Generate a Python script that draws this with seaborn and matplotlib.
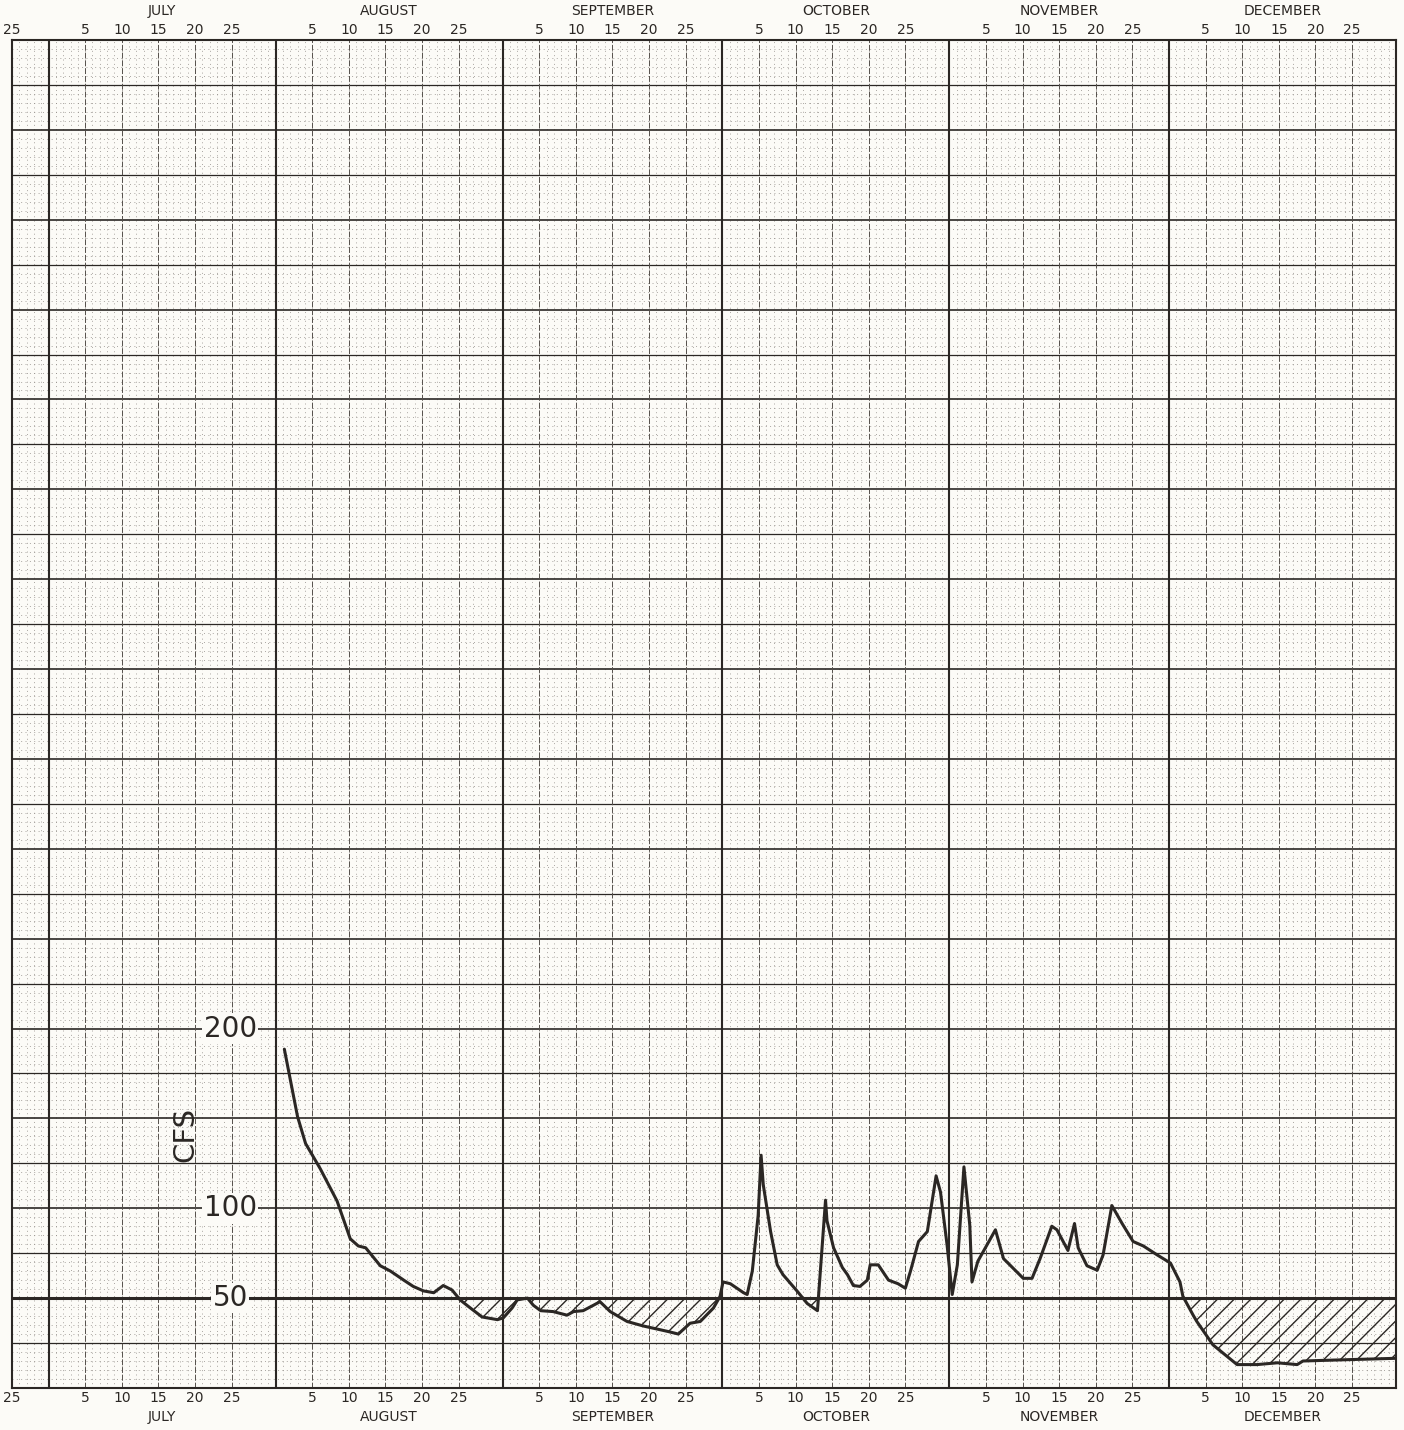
import numpy as np
import pandas as pd
import seaborn as sns
import matplotlib.pyplot as plt
from matplotlib.transforms import blended_transform_factory

# ---------------------------------------------
# Data read off the hydrograph
# day = days after the July 1 line, flow in cfs
# ---------------------------------------------
day = [32.2, 34.0, 35.1, 37.1, 39.4, 41.2, 42.3, 43.3, 45.3, 46.7,
       48.5, 49.8, 51.2, 52.6, 53.9, 55.1, 56.2, 57.6, 59.2, 61.3,
       62.1, 63.3, 64.0, 65.4, 66.2, 67.2, 68.9, 70.8, 71.7, 73.0,
       74.4, 75.3, 76.7, 79.0, 81.2, 84.5, 86.0, 87.6, 89.0, 90.8,
       91.7, 92.1, 93.1, 94.9, 95.4, 96.1, 96.9, 97.3, 97.6, 98.6,
       99.5, 100.3, 102.2, 103.6, 105.0, 106.1, 106.3, 107.2, 108.4, 109.1,
       109.9, 110.8, 111.8, 112.2, 113.3, 114.7, 116.0, 117.0, 117.7, 118.8,
       120.0, 121.2, 121.8, 122.7, 123.4, 124.1, 125.0, 125.8, 126.1, 126.9,
       129.3, 130.4, 133.1, 134.3, 135.4, 137.0, 137.7, 139.2, 140.1, 140.6,
       141.8, 143.2, 144.0, 145.2, 146.6, 148.1, 149.5, 151.4, 153.2, 154.5,
       154.9, 156.3, 156.8, 159.0, 162.3, 165.0, 167.8, 170.5, 171.3, 175.4,
       184.0]
flow = [188.5, 151, 136, 122, 104, 83, 79, 78, 68, 65,
        60, 56.5, 54, 53, 57, 54.5, 49, 44.5, 39.5, 38,
        39, 44.5, 49, 50, 46, 43, 42.5, 40.5, 42.5, 43,
        46, 48, 42.5, 37, 34.5, 31.5, 30, 36, 37, 44.5,
        51, 59, 58, 53, 52, 65, 96, 129.5, 113, 87,
        68.5, 63, 54, 47, 43, 104.5, 93, 78, 67, 63,
        57, 56.5, 60, 68.5, 68.5, 60, 58, 55.5, 65, 81.5,
        87, 118, 109, 79.5, 52, 68.5, 123, 90.5, 59, 70.5,
        88, 72, 61, 61, 72, 90, 88, 76.5, 91.5, 78,
        68, 65.5, 74, 101.5, 91.5, 81.5, 79, 74, 69.5, 59,
        51, 40.5, 37, 24, 13, 13, 14, 13, 15, 15.5,
        16.5]

months = ["JULY", "AUGUST", "SEPTEMBER", "OCTOBER", "NOVEMBER", "DECEMBER"]
month_start = [0, 31, 62, 92, 123, 153]
month_len = [31, 31, 30, 31, 30, 31]
day_labels = [5, 10, 15, 20, 25]
flow_labels = [200, 100, 50]
base_flow = 50

df = pd.DataFrame({"day": day, "flow": flow})

# ---------------------------------------------
# Figure
# ---------------------------------------------
paper = "#fcfbf7"
ink = "#2b2724"
grey = "#8e8984"

sns.set_style("white")
plt.rcParams["font.family"] = ["DejaVu Sans"]

fig = plt.figure(figsize=(14.04, 14.30), dpi=100, facecolor=paper)
ax = fig.add_axes([0.0085, 0.0294, 0.9858, 0.9426])
ax.set_facecolor(paper)

x0, x1 = -5, 184
ax.set_xlim(x0, x1)
ax.set_ylim(0, 750)

# graph paper grid
for d in range(x0, x1 + 1):
    ax.axvline(d, color=grey, lw=0.55, ls=(0, (1.2, 4.5)), zorder=1)
for v in range(0, 751, 5):
    if v % 25:
        ax.axhline(v, color=grey, lw=0.55, ls=(0, (1.2, 4.5)), zorder=1)
for v in range(0, 751, 25):
    ax.axhline(v, color=ink, lw=1.2 if v % 50 == 0 else 0.9, zorder=2)

ticks = [-5]
labels = ["25"]
for s in month_start:
    for d in day_labels:
        ticks.append(s + d)
        labels.append(str(d))
for t in ticks:
    ax.axvline(t, color="#55504b", lw=0.7, ls=(0, (6, 2)), zorder=2)
for s in month_start:
    ax.axvline(s, color=ink, lw=1.5, zorder=2)

# 50 cfs base line
ax.axhline(base_flow, color=ink, lw=2.2, zorder=3)

# hydrograph
sns.lineplot(data=df, x="day", y="flow", color=ink, lw=2.2, ax=ax,
             zorder=5, legend=False)
ax.fill_between(df["day"], df["flow"], base_flow,
                where=df["flow"] < base_flow, interpolate=True,
                facecolor="none", edgecolor=ink, hatch="//", lw=0, zorder=4)

# flow labels
for v in flow_labels:
    ax.text(24.8, v, str(v), ha="center", va="center", fontsize=20,
            color=ink, zorder=6,
            bbox=dict(boxstyle="square,pad=0.05", fc=paper, ec="none"))
ax.text(18.7, 141, "CFS", rotation=90, ha="center", va="center",
        fontsize=21, color=ink, zorder=6)

# axes / labels top and bottom
ax.set_xticks(ticks)
ax.set_xticklabels(labels)
ax.set_yticks([])
ax.tick_params(axis="x", length=0, labelsize=10, colors=ink, pad=2,
               top=True, labeltop=True, bottom=True, labelbottom=True)
ax.set_xlabel("")
ax.set_ylabel("")
for sp in ax.spines.values():
    sp.set_visible(True)
    sp.set_color(ink)
    sp.set_linewidth(1.5)

tr = blended_transform_factory(ax.transData, ax.transAxes)
for name, s, n in zip(months, month_start, month_len):
    ax.text(s + n / 2, 1.0215, name, transform=tr, ha="center",
            va="center", fontsize=10, color=ink)
    ax.text(s + n / 2, -0.0215, name, transform=tr, ha="center",
            va="center", fontsize=10, color=ink)

fig.savefig("out.png", dpi=100, facecolor=paper)
